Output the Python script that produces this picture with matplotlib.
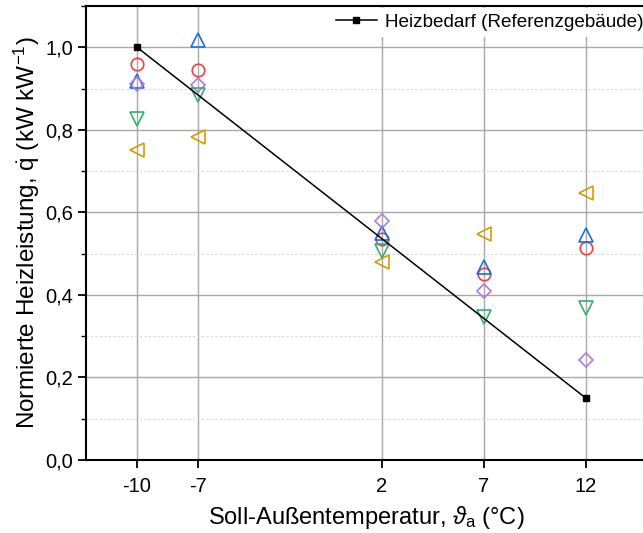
import matplotlib
matplotlib.use("Agg")
import matplotlib.pyplot as plt
from matplotlib.ticker import MultipleLocator, FixedLocator

plt.rcParams['font.family'] = ['Liberation Sans', 'DejaVu Sans']
plt.rcParams['mathtext.fontset'] = 'custom'
plt.rcParams['mathtext.rm'] = 'Liberation Sans'
plt.rcParams['mathtext.it'] = 'Liberation Sans:italic'
plt.rcParams['axes.unicode_minus'] = False

temps = [-10, -7, 2, 7, 12]
tick_labels = ['-10', '-7', '2', '7', '12']
ref_x = [-10, 12]
ref_y = [1.0, 0.15]

red_circle = [0.959, 0.944, 0.535, 0.450, 0.513]
blue_up = [0.918, 1.017, 0.549, 0.467, 0.545]
purple_diamond = [0.910, 0.908, 0.579, 0.409, 0.242]
green_down = [0.826, 0.884, 0.506, 0.346, 0.368]
orange_left = [0.751, 0.782, 0.479, 0.547, 0.646]

fig = plt.figure(figsize=(6.43, 5.33), dpi=100)
ax = fig.add_axes([86/643, 73/533, (647-86)/643, (460-6)/533])

ax.set_xlim(-12.5, 15)
ax.set_ylim(0, 1.1)

ax.xaxis.set_major_locator(FixedLocator(temps))
ax.set_xticklabels(tick_labels)
ax.yaxis.set_major_locator(MultipleLocator(0.2))
ax.yaxis.set_minor_locator(MultipleLocator(0.1))
ax.yaxis.set_major_formatter(matplotlib.ticker.FuncFormatter(lambda v, p: f"{v:.1f}".replace('.', ',')))

ax.grid(True, which='major', color='#a8a8a8', linewidth=1.0, linestyle='-', zorder=0)
ax.grid(True, which='minor', axis='y', color='#d8d8d8', linewidth=0.8, linestyle=(0, (2, 2)), zorder=0)
ax.set_axisbelow(True)

ax.tick_params(axis='both', which='major', direction='out', length=6, width=1.3, labelsize=14.5)
ax.tick_params(axis='y', which='minor', direction='out', length=3.5, width=1.0)
ax.tick_params(axis='x', which='major', pad=6)
for s in ax.spines.values():
    s.set_linewidth(1.5)

ms = 9
mew = 1.2
ax.plot(temps, red_circle, linestyle='none', marker='o', ms=ms, mfc='none', mec='#F14040', mew=mew, zorder=3)
ax.plot(temps, blue_up, linestyle='none', marker='^', ms=ms+1, mfc='none', mec='#1A6FDF', mew=mew, zorder=3)
ax.plot(temps, purple_diamond, linestyle='none', marker='D', ms=ms-1.5, mfc='none', mec='#B177DE', mew=mew, zorder=3)
ax.plot(temps, green_down, linestyle='none', marker='v', ms=ms+1, mfc='none', mec='#37AD6B', mew=mew, zorder=3)
ax.plot(temps, orange_left, linestyle='none', marker='<', ms=ms+1, mfc='none', mec='#D49B00', mew=mew, zorder=3)

line, = ax.plot(ref_x, ref_y, color='black', linewidth=1.1, marker='s', ms=4.5, zorder=4,
                label='Heizbedarf (Referenzgebäude)')

leg = ax.legend(handles=[line], loc='upper left', bbox_to_anchor=(330/643, 1 - 8/533),
                bbox_transform=fig.transFigure, frameon=True, fontsize=13.6, handlelength=2.2,
                handletextpad=0.4, borderaxespad=0, borderpad=0.3)
leg.get_frame().set_facecolor('white')
leg.get_frame().set_edgecolor('none')
leg.get_frame().set_alpha(1)
leg.get_frame().set_boxstyle('square', pad=0)

ax.set_ylabel('Normierte Heizleistung, $\\dot{\\mathrm{q}}$ (kW kW$^{-1}$)', fontsize=17.5, labelpad=2)
ax.set_xlabel('Soll-Außentemperatur, $\\mathit{\\vartheta}_{\\mathrm{a}}$ (°C)', fontsize=17, labelpad=6)

fig.savefig('out.png', dpi=100)
